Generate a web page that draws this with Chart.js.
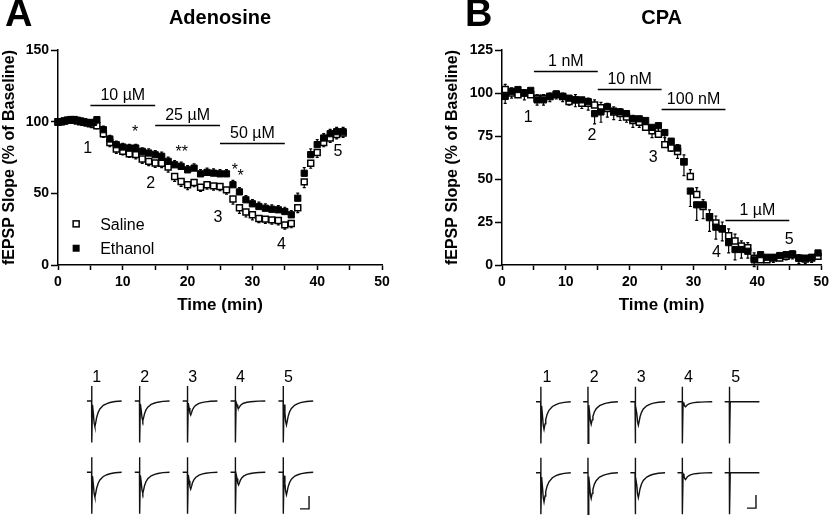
<!DOCTYPE html>
<html>
<head>
<meta charset="utf-8">
<script src="https://cdn.jsdelivr.net/npm/chart.js@4.4.1/dist/chart.umd.min.js"></script>
<style>
  body { margin: 0; background: #fff; }
  #fig { position: relative; width: 833px; height: 517px; overflow: hidden; background: #fff; }
  canvas { position: absolute; }
</style>
</head>
<body>
<div id="fig">
  <canvas id="chartA" width="410" height="320" style="left:0;top:0"></canvas>
  <canvas id="chartB" width="423" height="320" style="left:410px;top:0"></canvas>
  <canvas id="tracesA" width="270" height="155" style="left:70px;top:362px"></canvas>
  <canvas id="tracesB" width="270" height="155" style="left:520px;top:362px"></canvas>
</div>
<script>
"use strict";
const FONT = '"Liberation Sans", Arial, Helvetica, sans-serif';

// ---- Panel A: adenosine (baseline sampled every 0.5 min, then every minute)
const timeA = [0, 0.5, 1, 1.5, 2, 2.5, 3, 3.5, 4, 4.5, 5, 5.5,
  6, 7, 8, 9, 10, 11, 12, 13, 14, 15, 16, 17, 18, 19, 20, 21, 22, 23, 24, 25, 26,
  27, 28, 29, 30, 31, 32, 33, 34, 35, 36, 37, 38, 39, 40, 41, 42, 43, 44];
const salineA = [100, 100, 100.5, 101, 101, 101, 100.5, 100, 99.5, 99, 98.5, 98,
  97.2, 91.6, 85.5, 80.9, 79.3, 77.6, 77, 73.9, 72.3, 71.1, 71, 68.3, 61.8, 58.3, 56, 57.6, 54.3, 56, 55.2, 54.8, 52.4,
  46, 40, 37, 35, 32.5, 32, 31.5, 31, 28, 29, 40, 58, 71, 78.5, 85.5, 88.5, 91, 92];
const ethanolA = [99.5, 100, 100.5, 101, 101.5, 101.5, 101, 100.5, 100, 99.5, 99, 99.5,
  101.4, 94.4, 87.9, 83.9, 82.3, 81.6, 81.6, 79.3, 78.1, 76.9, 75.8, 72.3, 69.9, 68.8, 66.4, 67.6, 63.6, 64.6, 64.1, 63.6, 63.6,
  56, 51, 45.5, 42.7, 40.8, 39.6, 38.9, 38.5, 37.3, 35, 46.6, 64, 77, 84, 88.6, 91.6, 93, 93];
const salineErrA = [1, 1, 1, 1, 1, 1, 1, 1, 1, 1.5, 1.5, 1.5,
  2, 2.5, 3, 3, 2.5, 2.5, 3, 3, 3, 3, 3, 3.5, 3.5, 3.5, 3.5, 3, 3, 3, 3, 3, 3,
  3.5, 4, 3.5, 3.5, 3, 3, 3, 3, 3, 3, 3.5, 4, 3.5, 3.5, 3, 3, 3, 3];
const ethanolErrA = [1, 1, 1, 1, 1, 1, 1, 1, 1, 1, 1.5, 1.5,
  2, 2.5, 2.5, 2.5, 2.5, 2.5, 2.5, 2.5, 3, 3, 3, 3, 3, 3, 3, 3, 3, 3, 3, 3, 3,
  3, 3, 3, 3, 3, 3, 3, 3, 3, 3, 3.5, 4, 4, 3.5, 3, 3, 3, 3];
const dosesA = ['10 \u00b5M', '25 \u00b5M', '50 \u00b5M'];
const doseStartA = [5, 15, 25];
const doseEndA = [15, 25, 35];

// ---- Panel B: CPA, one point per minute
const timeB = [0.5, 1.5, 2.5, 3.5, 4.5, 5.5, 6.5, 7.5, 8.5, 9.5,
  10.5, 11.5, 12.5, 13.5, 14.5, 15.5, 16.5, 17.5, 18.5, 19.5,
  20.5, 21.5, 22.5, 23.5, 24.5, 25.5, 26.5, 27.5, 28.5, 29.5,
  30.5, 31.5, 32.5, 33.5, 34.5, 35.5, 36.5, 37.5, 38.5, 39.5,
  40.5, 41.5, 42.5, 43.5, 44.5, 45.5, 46.5, 47.5, 48.5, 49.5];
const salineB = [102, 100, 99, 100, 99, 97, 97, 98, 99, 98,
  95, 96, 94, 94, 93, 91.5, 91, 89, 88, 86,
  84, 83, 80, 78, 76, 70, 68, 66, 60, 51.5,
  41, 34, 28, 24.5, 21, 17, 14, 11, 10, 4,
  3, 3, 4, 4, 5, 6, 4, 3.5, 4, 5];
const ethanolB = [98, 101, 102, 100, 101.5, 96, 96, 98, 99.5, 98,
  97, 96, 96, 95, 88, 89, 92, 89.5, 89, 88,
  85, 85, 84, 80, 81, 77, 72, 68, 60, 43,
  35, 35, 27.5, 22, 21, 13, 9, 9, 8, 3,
  6, 4.5, 4.5, 5.5, 6, 6.5, 4, 4, 4.5, 7];
const salineErrB = [3, 3, 3, 2, 2, 2, 2, 2, 2, 2,
  3, 3, 3, 3, 3, 3, 3, 3, 3, 3,
  3, 3, 3, 3, 4, 4, 4, 4, 4, 4,
  4, 4, 4, 4, 4, 4, 4, 3, 3, 3,
  2, 2, 2, 2, 2, 2, 2, 2, 2, 2];
const ethanolErrB = [4, 4, 4, 4, 3, 3, 3, 3, 3, 3,
  4, 4, 5, 5, 6, 6, 6, 5, 5, 5,
  5, 5, 5, 6, 6, 6, 6, 6, 8, 9,
  9, 8, 8, 7, 7, 6, 6, 5, 4, 4,
  3, 3, 3, 3, 3, 3, 3, 3, 3, 3];
const dosesB = ['1 nM', '10 nM', '100 nM', '1 \u00b5M'];
const doseStartB = [5, 15, 25, 35];
const doseEndB = [15, 25, 35, 45];

// ---- axes
const xTickLabels = [0, 10, 20, 30, 40, 50];
const yTicksA = [0, 50, 100, 150];
const yTicksB = [0, 25, 50, 75, 100, 125];
const sampleLabels = ['1', '2', '3', '4', '5'];

// ---- example fEPSP traces (ms after stimulus, fraction of peak), peak depth in mV
const waveT = [0.5, 1.0, 1.4, 1.85, 2.4, 2.8, 3.6, 4.6, 6.5, 8.5, 10.2, 13, 16.7];
const waveF = [0.15, 0.5, 0.85, 1.0, 0.8, 0.64, 0.45, 0.31, 0.17, 0.1, 0.06, 0.02, 0];
const peakA1 = [0.99, 0.76, 0.54, 0.28, 0.92];
const peakA2 = [0.96, 0.81, 0.65, 0.49, 0.87];
const peakB1 = [1.06, 0.87, 0.90, 0.19, 0];
const peakB2 = [1.12, 0.99, 0.96, 0.26, 0];
const artUp = 0.58, artDown = 1.6;    // stimulus artifact, mV
const barMs = 5, barMv = 0.5;         // scale bar

// draws SEM bars behind the squares, one direction per group
const errorBars = {
  id: 'errorBars',
  beforeDatasetsDraw(chart) {
    const ctx = chart.ctx, ys = chart.scales.y;
    ctx.save();
    ctx.strokeStyle = '#000';
    ctx.lineWidth = 1.2;
    chart.data.datasets.forEach((ds, i) => {
      if (!ds.errors) return;
      chart.getDatasetMeta(i).data.forEach((pt, j) => {
        const end = ys.getPixelForValue(ds.data[j].y + ds.errDir * ds.errors[j]);
        ctx.beginPath();
        ctx.moveTo(pt.x, pt.y);
        ctx.lineTo(pt.x, end);
        ctx.moveTo(pt.x - 1.5, end);
        ctx.lineTo(pt.x + 1.5, end);
        ctx.stroke();
      });
    });
    ctx.restore();
  }
};

// panel letter, title, drug bars, numbers, legend
const figText = {
  id: 'figText',
  afterDatasetsDraw(chart, args, o) {
    const ctx = chart.ctx, xs = chart.scales.x, ys = chart.scales.y, ca = chart.chartArea;
    ctx.save();
    ctx.fillStyle = '#000';
    ctx.strokeStyle = '#000';
    ctx.textBaseline = 'alphabetic';
    ctx.textAlign = 'left';
    ctx.font = 'bold 38px ' + FONT;
    ctx.fillText(o.letter, o.letterX, 26);
    ctx.textAlign = 'center';
    ctx.font = 'bold 20px ' + FONT;
    ctx.fillText(o.title, (ca.left + ca.right) / 2, 24);

    ctx.font = '16px ' + FONT;
    ctx.lineWidth = 1.5;
    o.doses.forEach((d, i) => {
      const x0 = xs.getPixelForValue(o.start[i]), x1 = xs.getPixelForValue(o.end[i]);
      const py = Math.round(ys.getPixelForValue(o.levels[i])) + 0.5;
      ctx.beginPath();
      ctx.moveTo(x0, py);
      ctx.lineTo(x1, py);
      ctx.stroke();
      ctx.fillText(d, (x0 + x1) / 2, py - 6);
    });
    o.nums.forEach((p, i) => {
      ctx.fillText(sampleLabels[i], xs.getPixelForValue(p[0]), ys.getPixelForValue(p[1]) + 5.7);
    });
    (o.stars || []).forEach(s => {
      ctx.fillText(s[0], xs.getPixelForValue(s[1]), ys.getPixelForValue(s[2]) + 9);
    });
    if (o.legend) {
      ctx.textAlign = 'left';
      o.legend.forEach(l => {
        const px = xs.getPixelForValue(l.x), py = ys.getPixelForValue(l.y);
        if (l.filled) {
          ctx.fillRect(px - 3.5, py - 3.5, 7, 7);
        } else {
          ctx.lineWidth = 1.5;
          ctx.strokeRect(px - 3, py - 3, 6, 6);
        }
        ctx.fillText(l.text, px + 24, py + 5.7);
      });
    }
    ctx.restore();
  }
};

function axisFont(size) {
  return { family: FONT, size: size, weight: 'bold' };
}

function panelChart(id, cfg) {
  const yMin = cfg.yTicks[0], yMax = cfg.yTicks[cfg.yTicks.length - 1];
  return new Chart(document.getElementById(id), {
    type: 'scatter',
    data: {
      datasets: [
        {
          label: 'Ethanol',
          data: cfg.t.map((t, i) => ({ x: t, y: cfg.eth[i] })),
          errors: cfg.ethErr, errDir: cfg.ethDir,
          pointStyle: 'rect', pointRadius: 4.4,
          backgroundColor: '#000', borderColor: '#000', borderWidth: 1,
          clip: false
        },
        {
          label: 'Saline',
          data: cfg.t.map((t, i) => ({ x: t, y: cfg.sal[i] })),
          errors: cfg.salErr, errDir: cfg.salDir,
          pointStyle: 'rect', pointRadius: 4.2,
          backgroundColor: '#fff', borderColor: '#000', borderWidth: 1.5,
          clip: false
        }
      ]
    },
    options: {
      responsive: false,
      animation: false,
      events: [],
      layout: { padding: { left: cfg.padLeft, right: cfg.padRight, top: 50, bottom: 0 } },
      plugins: { legend: { display: false }, tooltip: { enabled: false }, figText: cfg.ann },
      scales: {
        x: {
          type: 'linear', min: 0, max: 50,
          ticks: {
            stepSize: 5, autoSkip: false, maxRotation: 0, padding: 4, color: '#000',
            font: axisFont(14),
            callback: v => xTickLabels.includes(v) ? String(v) : ''
          },
          grid: { drawOnChartArea: false, tickLength: 5, tickWidth: 1.5, tickColor: '#000' },
          border: { color: '#000', width: 1.5 },
          title: { display: true, text: 'Time (min)', color: '#000', font: axisFont(17), padding: { top: 0, bottom: 4 } },
          afterFit: s => { s.height = 55; }
        },
        y: {
          type: 'linear', min: yMin, max: yMax,
          ticks: { stepSize: cfg.yTicks[1] - cfg.yTicks[0], padding: 2, color: '#000', font: axisFont(14) },
          grid: { drawOnChartArea: false, tickLength: 7, tickWidth: 1.5, tickColor: '#000' },
          border: { color: '#000', width: 1.5 },
          title: { display: true, text: 'fEPSP Slope (% of Baseline)', color: '#000', font: axisFont(16), padding: { top: 0, bottom: 0 } },
          afterFit: s => { s.width = cfg.yWidth; }
        }
      }
    },
    plugins: [errorBars, figText]
  });
}

panelChart('chartA', {
  t: timeA, sal: salineA, eth: ethanolA,
  salErr: salineErrA, ethErr: ethanolErrA, salDir: -1, ethDir: 1,
  yTicks: yTicksA, padLeft: 0, padRight: 28, yWidth: 58,
  ann: {
    letter: 'A', letterX: 5, title: 'Adenosine',
    doses: dosesA, start: doseStartA, end: doseEndA, levels: [111.7, 98, 85],
    nums: [[4.6, 82], [14.3, 57.5], [24.7, 34.3], [34.5, 15.3], [43.2, 79.9]],
    stars: [['*', 11.9, 95.8], ['**', 19.1, 81.8], ['*', 27.3, 69.2], ['*', 28.2, 65]],
    legend: [
      { text: 'Saline', x: 2.8, y: 28.7, filled: false },
      { text: 'Ethanol', x: 2.8, y: 11.7, filled: true }
    ]
  }
});

panelChart('chartB', {
  t: timeB, sal: salineB, eth: ethanolB,
  salErr: salineErrB, ethErr: ethanolErrB, salDir: 1, ethDir: -1,
  yTicks: yTicksB, padLeft: 33, padRight: 9, yWidth: 59,
  ann: {
    letter: 'B', letterX: 55, title: 'CPA',
    doses: dosesB, start: doseStartB, end: doseEndB, levels: [112.8, 102.5, 90.5, 26],
    nums: [[4.1, 86.6], [14.1, 76], [23.7, 63.4], [33.6, 8.1], [45, 15.5]]
  }
});

// ---- example traces
const PX_MS = 1.8, PX_MV = 26;

const traceNums = {
  id: 'traceNums',
  afterDraw(chart, args, o) {
    const ctx = chart.ctx, xs = chart.scales.x, ys = chart.scales.y;
    ctx.save();
    ctx.fillStyle = '#000';
    ctx.font = '16px ' + FONT;
    ctx.textAlign = 'center';
    ctx.textBaseline = 'alphabetic';
    sampleLabels.forEach((s, i) => {
      ctx.fillText(s, xs.getPixelForValue(o.first + i * o.gap + o.labelDx), ys.getPixelForValue(o.labelY) + 5.7);
    });
    ctx.restore();
  }
};

function traceChart(id, cfg) {
  const cv = document.getElementById(id);
  const line = { showLine: true, pointRadius: 0, borderColor: '#111', borderWidth: 1.4, tension: 0, clip: false };
  const datasets = [];
  cfg.rows.forEach(row => {
    row.peaks.forEach((pk, i) => {
      const off = cfg.first + i * cfg.gap, b = row.base;
      const pts = [
        { x: off - 2.6, y: b }, { x: off, y: b },
        { x: off + 0.05, y: b + artUp }, { x: off + 0.15, y: b - artDown }
      ];
      waveT.forEach((t, k) => pts.push({ x: off + t, y: b - pk * waveF[k] }));
      datasets.push(Object.assign({ data: pts }, line));
    });
  });
  const sb = cfg.bar;
  datasets.push(Object.assign({
    data: [{ x: sb.x - barMs, y: sb.y }, { x: sb.x, y: sb.y }, { x: sb.x, y: sb.y + barMv }]
  }, line));
  return new Chart(cv, {
    type: 'scatter',
    data: { datasets: datasets },
    options: {
      responsive: false,
      animation: false,
      events: [],
      layout: { padding: 0 },
      plugins: { legend: { display: false }, tooltip: { enabled: false }, traceNums: cfg },
      scales: {
        x: { type: 'linear', display: false, min: 0, max: cv.width / PX_MS },
        y: { type: 'linear', display: false, min: -cv.height / PX_MV, max: 0 }
      }
    },
    plugins: [traceNums]
  });
}

traceChart('tracesA', {
  first: 12, gap: 26.6, labelDx: 2.9, labelY: -0.54,
  rows: [{ base: -1.5, peaks: peakA1 }, { base: -4.24, peaks: peakA2 }],
  bar: { x: 132.8, y: -5.65 }
});

traceChart('tracesB', {
  first: 11.5, gap: 26.2, labelDx: 3.5, labelY: -0.54,
  rows: [{ base: -1.53, peaks: peakB1 }, { base: -4.26, peaks: peakB2 }],
  bar: { x: 131.1, y: -5.62 }
});
</script>
</body>
</html>
